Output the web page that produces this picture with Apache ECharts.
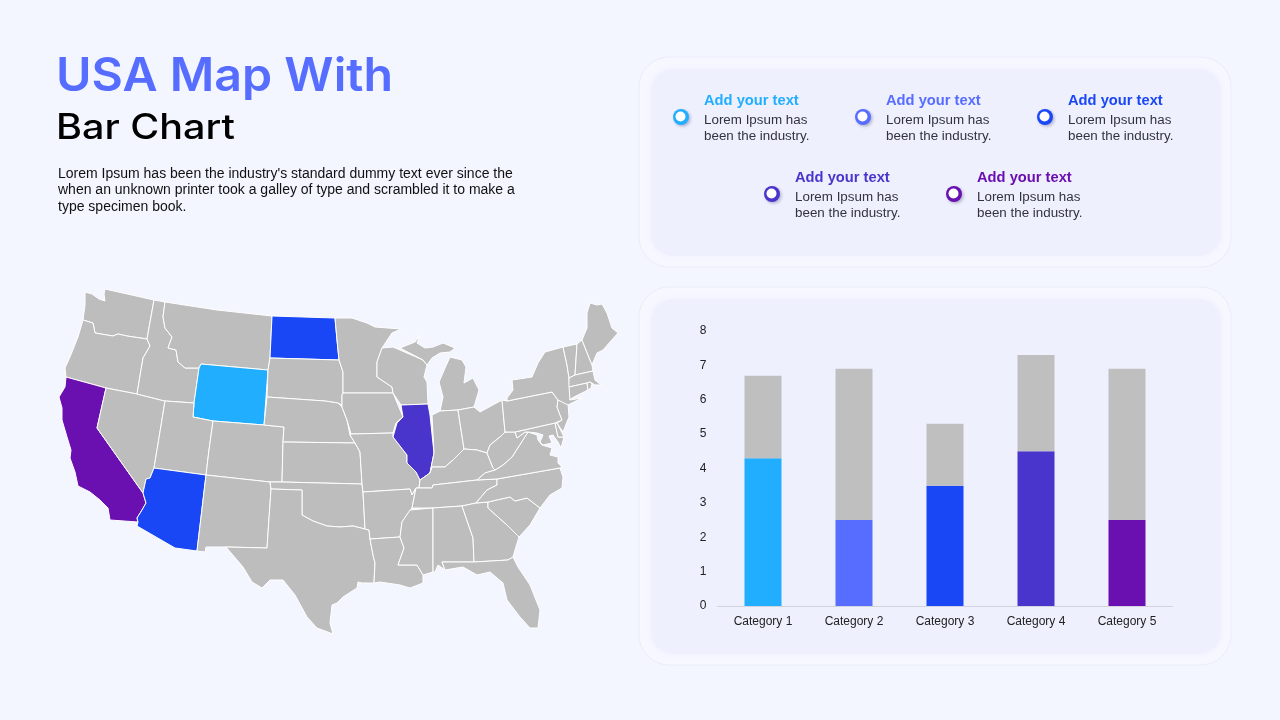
<!DOCTYPE html>
<html>
<head>
<meta charset="utf-8">
<title>USA Map With Bar Chart</title>
<style>
html, body { margin: 0; padding: 0; background: #F3F5FF; }
#main { width: 1280px; height: 720px; }
</style>
<script src="https://cdn.jsdelivr.net/npm/echarts@6/dist/echarts.min.js"></script>
</head>
<body>
<div id="main"></div>
<script>
// bar chart
var categories = ["Category 1", "Category 2", "Category 3", "Category 4", "Category 5"];
var colorValues = [4.3, 2.5, 3.5, 4.5, 2.5];
var greyValues = [2.4, 4.4, 1.8, 2.8, 4.4];
var barColors = ["#22AEFF", "#566DFF", "#1A47F5", "#4A35CC", "#6A0FB0"];
var yTicks = [0, 1, 2, 3, 4, 5, 6, 7, 8];

// map highlights
var highlightStates = ["Wyoming", "North Dakota", "Arizona", "Illinois", "California"];
var highlightColors = ["#22AEFF", "#1A47F5", "#1A47F5", "#4A35CC", "#6A0FB0"];

// legend
var legendTitle = "Add your text";
var legendLines = ["Lorem Ipsum has", "been the industry."];
var legendX = [681, 863, 1045, 772, 954];
var legendY = [117, 117, 117, 194, 194];

// base map outlines (rings of x,y)
var statePaths = {
    "Washington": ["85,292 92,294 99,299 105,301 104,294 105,289 154,300 147,339 127,336 118,334 113,336 95,333 93,323 83,320 85,305"],
    "Oregon": ["83,320 93,323 95,333 113,336 118,334 127,336 147,339 150,346 143,358 137,394 106,388 66,377 65,368 70,357 78,337"],
    "California": ["66,377 106,388 97,428 143,493 146,503 142,510 137,518 138,522 110,520 108,508 100,500 90,492 78,486 75,472 70,458 71,450 67,437 62,420 62,408 59,397 65,387"],
    "Nevada": ["106,388 137,394 165,401 157,450 154,468 150,478 146,479 143,493 97,428"],
    "Idaho": ["154,300 165,302 163,317 165,328 172,337 168,348 176,350 178,362 185,368 199,368 194,403 165,401 137,394 143,358 150,346 147,339"],
    "Montana": ["165,302 217,310 272,316 270,358 268,370 201,364 199,368 185,368 178,362 176,350 168,348 172,337 165,328 163,317"],
    "Wyoming": ["201,364 268,370 264,425 213,421 193,417 194,403 199,368"],
    "Utah": ["165,401 194,403 193,417 213,421 209,450 206,475 154,468 157,450"],
    "Arizona": ["154,468 206,475 197,551 175,548 137,526 138,522 137,518 142,510 146,503 143,493 146,479 150,478"],
    "Colorado": ["213,421 264,425 284,427 283,442 282,482 270,482 206,475 209,450"],
    "New Mexico": ["206,475 270,482 271,489 267,548 226,547 206,547 205,552 197,551"],
    "North Dakota": ["272,316 335,318 337,340 339,360 270,358"],
    "South Dakota": ["270,358 339,360 343,372 343,393 342,395 342,405 338,403 325,401 267,397 268,370"],
    "Nebraska": ["267,397 325,401 338,403 342,407 347,420 350,435 355,443 283,442 284,427 264,425"],
    "Kansas": ["283,442 355,443 360,452 362,484 282,482"],
    "Oklahoma": ["270,482 282,482 362,484 363,492 365,529 353,526 340,527 327,526 313,521 302,515 302,490 271,489"],
    "Texas": ["271,489 302,490 302,515 313,521 327,526 340,527 353,526 365,529 369,530 370,539 373,555 375,563 374,583 362,583 358,582 357,588 343,597 337,603 332,605 330,623 333,634 317,628 307,617 295,595 283,580 270,580 262,588 252,582 243,567 226,547 267,548"],
    "Minnesota": ["335,318 352,318 367,323 375,327 401,329 392,333 382,348 377,362 377,377 392,387 393,393 343,393 343,372 339,360 337,340"],
    "Iowa": ["342,395 343,393 393,393 403,417 396,423 393,433 351,434 347,420 342,407 342,405"],
    "Missouri": ["351,434 393,433 393,437 407,455 407,463 416,472 420,480 419,488 416,488 412,495 410,489 363,492 362,484 360,452 355,443 350,435"],
    "Arkansas": ["363,492 410,489 412,495 416,488 412,508 402,522 400,537 370,539 369,530 365,529"],
    "Louisiana": ["370,539 400,537 404,548 398,565 417,565 423,575 423,583 410,588 400,585 380,582 374,583 375,563 373,555"],
    "Wisconsin": ["382,348 393,347 400,350 423,360 427,365 424,377 427,382 428,404 401,405 393,393 392,387 377,377 377,362"],
    "Illinois": ["401,405 428,404 430,415 434,453 430,473 420,480 416,472 407,463 407,455 393,437 397,423 403,417"],
    "Michigan": [
        "400,348 415,342 420,335 417,343 425,348 433,347 443,343 455,348 450,352 440,353 432,358 427,365 423,360",
        "450,357 462,360 466,367 464,383 473,378 479,390 474,407 458,410 440,411 443,397 439,382 445,368"
    ],
    "Indiana": ["432,415 440,411 458,410 464,449 453,460 445,467 432,467 430,473 434,453"],
    "Ohio": ["458,410 474,407 480,412 502,400 505,432 500,437 490,445 487,453 477,450 464,449"],
    "Kentucky": ["420,480 430,473 432,467 445,467 453,460 464,449 477,450 487,453 493,468 495,470 485,473 477,480 433,485 432,488 419,488"],
    "Tennessee": ["412,508 416,488 419,488 432,488 433,485 477,480 497,479 497,485 487,490 476,503 462,506 433,508"],
    "Mississippi": ["410,510 433,508 433,572 423,575 417,565 398,565 404,548 400,537 402,522"],
    "Alabama": ["433,508 462,506 473,538 474,562 442,562 445,570 438,565 435,572 433,572"],
    "Georgia": ["462,506 476,503 488,502 488,508 507,525 519,537 515,550 513,557 508,560 474,562 473,538"],
    "Florida": ["442,562 474,562 508,560 513,557 518,567 530,585 540,610 538,628 530,628 520,617 507,600 503,583 490,572 477,575 463,567 445,570"],
    "South Carolina": ["488,502 510,497 515,501 527,498 540,508 530,525 519,537 507,525 488,508"],
    "North Carolina": ["497,479 560,468 563,477 562,488 550,495 540,508 527,498 515,501 510,497 488,502 476,503 487,490 497,485"],
    "Virginia": ["477,480 485,473 495,470 503,465 512,457 528,432 537,435 538,440 542,445 552,448 550,455 558,457 558,463 562,467 560,468 497,479"],
    "West Virginia": ["505,432 515,432 517,438 525,432 528,432 512,457 503,465 495,470 493,468 487,453 490,445 500,437"],
    "Maryland": ["515,432 555,423 558,437 564,437 561,448 558,442 553,435 549,436 552,443 543,445 540,442 543,435 537,433 528,432 525,432 517,438"],
    "Delaware": ["555,423 557,423 564,437 558,437"],
    "Pennsylvania": ["502,400 507,401 552,392 558,400 557,407 562,420 555,423 515,432 505,432"],
    "New Jersey": ["558,400 568,403 569,417 563,432 557,423 562,420 557,407"],
    "New York": ["563,347 567,365 569,378 570,400 582,398 568,405 558,400 552,392 507,401 507,398 513,390 512,380 532,377 538,363 545,352"],
    "Vermont": ["563,347 577,344 575,375 569,378 567,365"],
    "New Hampshire": ["577,344 582,340 592,365 593,371 575,375"],
    "Maine": ["582,340 587,328 587,313 590,303 597,305 602,304 607,313 612,328 618,333 610,342 603,350 597,353 592,365"],
    "Massachusetts": ["569,378 575,375 593,371 595,380 601,385 595,385 590,382 587,383 569,387"],
    "Connecticut": ["569,387 587,383 588,390 572,398 570,400"],
    "Rhode Island": ["587,383 590,382 592,384 591,388 588,390"]
};

function ringToCoords(ring) {
    var coords = ring.split(" ").map(function (p) {
        var xy = p.split(",");
        return [+xy[0], -xy[1]];
    });
    coords.push(coords[0]);
    return coords;
}

function buildGeoJson() {
    var features = Object.keys(statePaths).map(function (name) {
        return {
            type: "Feature",
            properties: {name: name},
            geometry: {
                type: "MultiPolygon",
                coordinates: statePaths[name].map(function (ring) {
                    return [ringToCoords(ring)];
                })
            }
        };
    });
    return {type: "FeatureCollection", features: features};
}

function panel(x, y, w, h) {
    return [
        {
            type: "rect", silent: true, z: 0,
            shape: {x: x, y: y, width: w, height: h, r: 30},
            style: {fill: "#F6F7FF", stroke: "#EAECF8", lineWidth: 1}
        },
        {
            type: "rect", silent: true, z: 0,
            shape: {x: x + 12, y: y + 12, width: w - 22, height: h - 23, r: 22},
            style: {fill: "#EEF0FE", shadowColor: "rgba(238,240,254,0.9)", shadowBlur: 5}
        }
    ];
}

function text(str, x, y, font, color, stretch) {
    return {
        type: "text", silent: true, z: 5, x: x, y: y, scaleX: stretch || 1,
        style: {text: str, font: font, fill: color, textVerticalAlign: "middle"}
    };
}

function legendItem(i) {
    var x = legendX[i], y = legendY[i], color = barColors[i];
    return [
        {
            type: "circle", silent: true, z: 4, x: x, y: y,
            shape: {r: 8},
            style: {fill: color, shadowColor: "rgba(40,40,90,0.3)", shadowBlur: 3, shadowOffsetX: 1.5, shadowOffsetY: 1.5}
        },
        {
            type: "circle", silent: true, z: 4, x: x - 0.5, y: y - 0.5,
            shape: {r: 5},
            style: {fill: "#FFFFFF"}
        },
        text(legendTitle, x + 23, y - 15.5, "bold 14px 'Liberation Sans'", color, 1.05),
        text(legendLines[0], x + 23, y + 4, "12px 'Liberation Sans'", "#333340", 1.115),
        text(legendLines[1], x + 23, y + 20, "12px 'Liberation Sans'", "#333340", 1.115)
    ];
}

var graphics = [].concat(
    panel(639, 57, 592, 210),
    panel(639, 287, 592, 378),
    [
        text("USA Map With", 56, 77, "600 46px Inter", "#566DFF", 1.05),
        text("Bar Chart", 56, 128, "500 35px Inter", "#000000", 1.13),
        text("Lorem Ipsum has been the industry's standard dummy text ever since the", 58, 174, "14px 'Liberation Sans'", "#111111"),
        text("when an unknown printer took a galley of type and scrambled it to make a", 58, 190, "14px 'Liberation Sans'", "#111111"),
        text("type specimen book.", 58, 207, "14px 'Liberation Sans'", "#111111")
    ]
);
legendX.forEach(function (x, i) {
    graphics = graphics.concat(legendItem(i));
});

echarts.registerMap("usa", buildGeoJson());

var chart = echarts.init(document.getElementById("main"));
chart.setOption({
    backgroundColor: "#F3F5FF",
    animation: false,
    graphic: graphics,
    grid: {left: 717.5, top: 331, width: 455, height: 275},
    xAxis: {
        type: "category",
        data: categories,
        axisTick: {show: false},
        axisLine: {lineStyle: {color: "#D2D3DE", width: 1}},
        axisLabel: {color: "#222222", fontSize: 12, fontFamily: "Liberation Sans", margin: 10}
    },
    yAxis: {
        type: "value",
        min: yTicks[0],
        max: yTicks[yTicks.length - 1],
        interval: 1,
        splitLine: {show: false},
        axisLine: {show: false},
        axisTick: {show: false},
        axisLabel: {color: "#222222", fontSize: 12, fontFamily: "Liberation Sans", margin: 11, lineHeight: 14, padding: [3, 0, 0, 0]}
    },
    series: [
        {
            type: "map",
            map: "usa",
            aspectScale: 1,
            left: 59,
            top: 289,
            width: 559,
            height: 345,
            silent: true,
            selectedMode: false,
            label: {show: false},
            itemStyle: {areaColor: "#BDBDBD", borderColor: "#FFFFFF", borderWidth: 1},
            data: highlightStates.map(function (name, i) {
                return {name: name, value: i + 1, itemStyle: {areaColor: highlightColors[i]}};
            })
        },
        {
            type: "bar",
            stack: "total",
            barWidth: 37,
            data: colorValues.map(function (v, i) {
                return {value: v, itemStyle: {color: barColors[i]}};
            })
        },
        {
            type: "bar",
            stack: "total",
            barWidth: 37,
            itemStyle: {color: "#BFBFBF"},
            data: greyValues
        }
    ]
});
</script>
</body>
</html>
